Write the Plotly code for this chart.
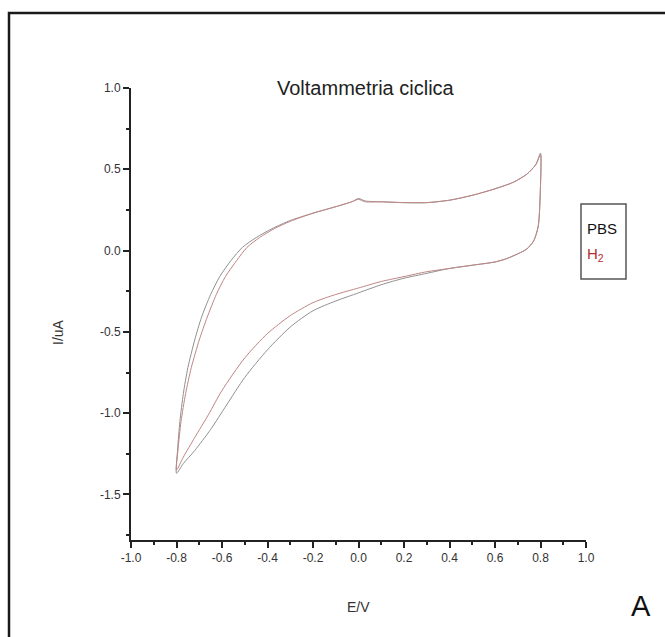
import plotly.graph_objects as go

# PBS scan (gray) - forward then reverse
pbs_E = [-0.80, -0.795, -0.785, -0.77, -0.75, -0.72, -0.69, -0.65, -0.61, -0.56, -0.51, -0.45, -0.38, -0.30,
         -0.20, -0.10, -0.03, 0.00, 0.03, 0.10, 0.20, 0.30, 0.40, 0.50, 0.60, 0.68, 0.74, 0.78, 0.80,
         0.80, 0.79, 0.77, 0.74, 0.70, 0.65, 0.60, 0.50, 0.40, 0.30, 0.20, 0.10, 0.00, -0.10, -0.20,
         -0.30, -0.40, -0.50, -0.58, -0.65, -0.72, -0.77, -0.80]
pbs_I = [-1.37, -1.22, -1.05, -0.88, -0.72, -0.55, -0.41, -0.27, -0.16, -0.06, 0.02, 0.08, 0.135, 0.185,
         0.23, 0.27, 0.30, 0.32, 0.305, 0.30, 0.295, 0.295, 0.31, 0.34, 0.38, 0.42, 0.47, 0.53, 0.60,
         0.40, 0.15, 0.06, 0.01, -0.02, -0.05, -0.07, -0.09, -0.11, -0.14, -0.17, -0.21, -0.26, -0.31, -0.37,
         -0.47, -0.61, -0.78, -0.95, -1.10, -1.23, -1.31, -1.37]

# H2 scan (red)
h2_E = [-0.80, -0.793, -0.78, -0.76, -0.735, -0.70, -0.665, -0.625, -0.585, -0.535, -0.49, -0.435, -0.37, -0.30,
        -0.20, -0.10, -0.03, 0.00, 0.03, 0.10, 0.20, 0.30, 0.40, 0.50, 0.60, 0.68, 0.74, 0.78, 0.80,
        0.80, 0.79, 0.77, 0.74, 0.70, 0.65, 0.60, 0.50, 0.40, 0.30, 0.20, 0.10, 0.00, -0.10, -0.20,
        -0.30, -0.40, -0.50, -0.60, -0.66, -0.72, -0.77, -0.80]
h2_I = [-1.35, -1.22, -1.05, -0.88, -0.72, -0.55, -0.41, -0.27, -0.16, -0.06, 0.02, 0.08, 0.135, 0.18,
        0.23, 0.27, 0.30, 0.315, 0.30, 0.30, 0.295, 0.295, 0.31, 0.34, 0.38, 0.42, 0.47, 0.53, 0.59,
        0.40, 0.15, 0.06, 0.01, -0.02, -0.05, -0.07, -0.09, -0.11, -0.13, -0.16, -0.19, -0.23, -0.27, -0.32,
        -0.40, -0.51, -0.66, -0.86, -1.01, -1.15, -1.27, -1.35]

x_ticks = [-1.0, -0.8, -0.6, -0.4, -0.2, 0.0, 0.2, 0.4, 0.6, 0.8, 1.0]
y_ticks = [-1.5, -1.0, -0.5, 0.0, 0.5, 1.0]

W, H = 665, 637
L, R, T, B = 131, 79, 88, 97
pw, ph = W - L - R, H - T - B

def px(x):
    return (x - L) / pw

def py(y):
    return (H - B - y) / ph

fig = go.Figure()
fig.add_trace(go.Scatter(x=pbs_E, y=pbs_I, mode="lines", name="PBS",
                         line=dict(color="#909090", width=1, shape="spline", smoothing=0.7)))
fig.add_trace(go.Scatter(x=h2_E, y=h2_I, mode="lines", name="H2",
                         line=dict(color="#c08585", width=1, shape="spline", smoothing=0.7)))

axis_common = dict(showgrid=False, zeroline=False, showline=True, linecolor="#222", linewidth=2,
                   ticks="outside", tickcolor="#222", tickwidth=1.5, ticklen=6,
                   tickfont=dict(family="Arial, Liberation Sans", size=12, color="#333"))
fig.update_xaxes(range=[-1.0, 1.0], tickvals=x_ticks, ticktext=[f"{v:.1f}" for v in x_ticks],
                 minor=dict(dtick=0.1, ticks="outside", ticklen=3, tickcolor="#222", tickwidth=1.5),
                 **axis_common)
fig.update_yaxes(range=[-1.78, 1.0], tickvals=y_ticks, ticktext=[f"{v:.1f}" for v in y_ticks],
                 minor=dict(tick0=0, dtick=0.25, ticks="outside", ticklen=3, tickcolor="#222", tickwidth=1.5),
                 **axis_common)

font = "Arial, Liberation Sans"
ann = [
    dict(text="Voltammetria ciclica", x=px(366), y=py(88), font=dict(size=20, color="#222", family=font)),
    dict(text="I/uA", x=px(58), y=py(332), textangle=-90, font=dict(size=14, color="#333", family=font)),
    dict(text="E/V", x=px(358), y=py(607), font=dict(size=14, color="#333", family=font)),
    dict(text="A", x=px(641), y=py(606), font=dict(size=29, color="#111", family=font)),
    dict(text="PBS", x=px(585), y=py(228), xanchor="left", font=dict(size=15, color="#111", family=font)),
    dict(text="H<sub>2</sub>", x=px(585), y=py(254), xanchor="left", font=dict(size=15, color="#b03030", family=font)),
]
for a in ann:
    a.setdefault("xanchor", "center")
    fig.add_annotation(xref="paper", yref="paper", showarrow=False, yanchor="middle", **a)

fig.add_shape(type="rect", xref="paper", yref="paper", x0=px(581), x1=px(626), y0=py(279), y1=py(204),
              line=dict(color="#555", width=1.5))
fig.add_shape(type="rect", xref="paper", yref="paper", x0=px(9), x1=px(680), y0=py(650), y1=py(13),
              line=dict(color="#1a1a1a", width=2.5))

fig.update_layout(width=W, height=H, margin=dict(l=L, r=R, t=T, b=B), showlegend=False,
                  plot_bgcolor="white", paper_bgcolor="white")
fig.write_html("out.html")
